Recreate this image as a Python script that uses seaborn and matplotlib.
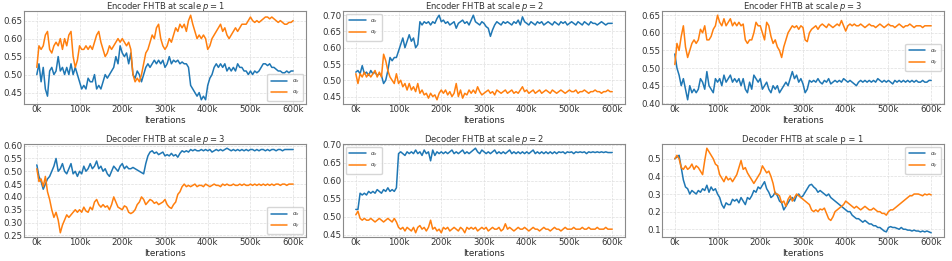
import matplotlib
matplotlib.use("Agg")
import matplotlib.pyplot as plt
from matplotlib.ticker import MultipleLocator
import pandas as pd
import seaborn as sns

# iterations, one sample every 5k
iters = list(range(0, 600001, 5000))

titles = [
    "Encoder FHTB at scale $p = 1$",
    "Encoder FHTB at scale $p = 2$",
    "Encoder FHTB at scale $p = 3$",
    "Decoder FHTB at scale $p = 3$",
    "Decoder FHTB at scale $p = 2$",
    "Decoder FHTB at scale p = 1",
]

enc1_x = [.50, .53, .48, .52, .46, .44, .51, .52, .50, .51,
          .55, .51, .52, .50, .52, .50, .53, .50, .52, .50,
          .48, .46, .47, .46, .49, .48, .48, .50, .46, .47,
          .46, .48, .50, .49, .50, .51, .52, .55, .53, .58,
          .56, .55, .56, .53, .56, .50, .49, .51, .50, .48,
          .50, .52, .53, .52, .53, .54, .53, .54, .53, .54,
          .52, .53, .55, .53, .54, .535, .54, .53, .535, .53,
          .53, .52, .47, .46, .45, .44, .45, .43, .44, .43,
          .47, .49, .50, .52, .53, .52, .53, .52, .53, .51,
          .52, .51, .52, .51, .53, .52, .52, .51, .51, .50,
          .51, .50, .51, .505, .51, .52, .53, .53, .525, .53,
          .52, .52, .515, .51, .51, .505, .505, .51, .505, .51,
          .51]
enc1_y = [.52, .58, .57, .58, .61, .62, .57, .56, .58, .59,
          .58, .60, .57, .60, .58, .61, .62, .55, .52, .54,
          .58, .57, .57, .58, .57, .58, .57, .59, .61, .62,
          .59, .57, .55, .56, .58, .57, .58, .59, .60, .59,
          .60, .59, .58, .59, .57, .50, .48, .49, .48, .50,
          .53, .56, .57, .59, .61, .60, .63, .64, .60, .58,
          .57, .58, .60, .59, .61, .63, .62, .64, .63, .64,
          .62, .65, .665, .64, .62, .60, .61, .60, .61, .60,
          .57, .58, .60, .61, .62, .63, .64, .62, .63, .61,
          .60, .61, .62, .63, .62, .63, .64, .64, .64, .65,
          .66, .65, .645, .65, .645, .65, .655, .66, .66, .655,
          .66, .655, .65, .645, .65, .645, .64, .64, .645, .645,
          .65]

enc2_x = [.525, .53, .52, .545, .52, .525, .515, .53, .52, .525,
          .515, .52, .515, .49, .50, .53, .57, .56, .57, .57,
          .59, .61, .63, .60, .62, .64, .62, .63, .60, .61,
          .68, .67, .68, .675, .68, .67, .68, .675, .69, .70,
          .68, .685, .675, .68, .67, .675, .68, .66, .675, .68,
          .685, .675, .68, .67, .685, .70, .68, .675, .67, .68,
          .675, .665, .66, .635, .655, .67, .68, .675, .67, .68,
          .675, .68, .675, .67, .68, .675, .685, .67, .695, .68,
          .675, .67, .68, .675, .67, .68, .675, .68, .67, .675,
          .68, .675, .67, .68, .675, .67, .68, .675, .68, .67,
          .675, .68, .675, .67, .68, .675, .67, .68, .675, .67,
          .68, .675, .675, .67, .675, .68, .675, .67, .675, .675,
          .675]
enc2_y = [.52, .49, .52, .51, .525, .51, .52, .51, .52, .53,
          .51, .525, .51, .58, .56, .53, .51, .50, .49, .52,
          .49, .50, .48, .49, .47, .49, .47, .48, .465, .49,
          .46, .47, .455, .46, .445, .46, .45, .455, .44, .46,
          .47, .46, .47, .455, .465, .45, .46, .49, .45, .47,
          .445, .46, .455, .47, .46, .47, .46, .48, .465, .455,
          .46, .465, .47, .46, .465, .455, .47, .465, .46, .465,
          .47, .46, .465, .47, .46, .465, .46, .47, .48, .465,
          .47, .46, .465, .47, .46, .465, .47, .46, .465, .47,
          .465, .46, .47, .465, .46, .465, .47, .465, .46, .465,
          .47, .465, .465, .47, .46, .465, .465, .47, .465, .46,
          .465, .465, .47, .465, .465, .46, .465, .465, .47, .465,
          .465]

enc3_x = [.54, .50, .48, .45, .47, .44, .41, .45, .43, .44,
          .43, .44, .47, .46, .44, .49, .45, .44, .43, .47,
          .46, .47, .45, .48, .46, .47, .48, .46, .47, .46,
          .47, .45, .47, .44, .43, .46, .44, .48, .47, .46,
          .47, .44, .45, .46, .44, .43, .45, .44, .45, .43,
          .44, .45, .46, .45, .47, .49, .47, .48, .46, .47,
          .455, .43, .44, .465, .46, .465, .46, .47, .46, .455,
          .465, .46, .47, .455, .46, .465, .46, .465, .46, .47,
          .465, .46, .465, .46, .455, .45, .46, .465, .46, .465,
          .46, .465, .46, .465, .46, .47, .465, .46, .465, .46,
          .465, .46, .455, .465, .46, .465, .46, .465, .46, .465,
          .46, .465, .46, .465, .46, .46, .465, .46, .46, .465,
          .465]
enc3_y = [.51, .57, .55, .59, .62, .56, .53, .55, .57, .58,
          .57, .58, .61, .60, .62, .58, .58, .59, .61, .62,
          .65, .63, .62, .64, .62, .63, .64, .62, .63, .62,
          .63, .62, .625, .58, .57, .58, .58, .60, .63, .62,
          .62, .60, .58, .63, .62, .59, .57, .58, .56, .55,
          .53, .56, .58, .60, .61, .62, .615, .62, .61, .62,
          .615, .58, .575, .60, .61, .615, .62, .61, .62, .625,
          .62, .615, .625, .62, .615, .62, .625, .62, .635, .62,
          .605, .62, .625, .62, .625, .62, .62, .625, .62, .615,
          .62, .625, .62, .62, .615, .62, .625, .62, .615, .62,
          .625, .62, .62, .615, .62, .625, .62, .615, .62, .62,
          .625, .62, .615, .62, .62, .62, .615, .62, .62, .62,
          .62]

dec3_x = [.525, .48, .46, .43, .45, .47, .48, .50, .52, .55,
          .50, .51, .53, .50, .49, .51, .53, .49, .50, .48,
          .50, .49, .52, .50, .51, .53, .51, .52, .54, .51,
          .52, .50, .51, .49, .48, .50, .52, .51, .50, .52,
          .53, .51, .52, .51, .51, .515, .51, .505, .50, .495,
          .49, .53, .56, .575, .58, .57, .575, .565, .57, .575,
          .56, .565, .56, .57, .56, .565, .555, .57, .58, .575,
          .58, .575, .585, .58, .585, .58, .58, .585, .58, .585,
          .58, .585, .575, .58, .585, .58, .585, .58, .585, .59,
          .585, .58, .585, .58, .585, .58, .585, .58, .585, .58,
          .585, .585, .58, .585, .58, .585, .585, .58, .585, .58,
          .585, .585, .58, .585, .585, .58, .585, .585, .585, .585,
          .585]
dec3_y = [.51, .46, .47, .44, .48, .42, .39, .35, .32, .34,
          .31, .26, .29, .31, .33, .32, .33, .34, .35, .34,
          .35, .34, .36, .345, .34, .36, .35, .38, .39, .37,
          .36, .37, .36, .365, .35, .37, .40, .38, .36, .355,
          .35, .365, .36, .34, .335, .34, .35, .37, .38, .40,
          .39, .37, .38, .39, .385, .375, .38, .37, .375, .38,
          .39, .37, .36, .355, .37, .38, .41, .42, .44, .45,
          .44, .445, .44, .445, .45, .44, .445, .445, .44, .45,
          .445, .44, .445, .45, .445, .445, .44, .45, .445, .45,
          .445, .445, .45, .445, .445, .45, .445, .45, .445, .445,
          .45, .445, .45, .445, .45, .445, .45, .445, .45, .445,
          .45, .445, .45, .45, .445, .45, .45, .445, .45, .45,
          .45]

dec2_x = [.52, .52, .565, .56, .565, .56, .57, .565, .57, .565,
          .575, .57, .565, .575, .57, .58, .57, .575, .57, .58,
          .675, .68, .675, .67, .68, .675, .68, .675, .685, .675,
          .68, .67, .685, .675, .68, .655, .685, .67, .68, .675,
          .68, .675, .68, .675, .68, .685, .675, .68, .675, .68,
          .685, .675, .68, .675, .68, .685, .69, .68, .675, .685,
          .68, .675, .68, .675, .68, .685, .675, .68, .675, .68,
          .675, .68, .685, .675, .68, .675, .68, .675, .68, .675,
          .68, .675, .68, .685, .675, .68, .675, .68, .675, .68,
          .675, .68, .675, .68, .675, .68, .678, .68, .675, .68,
          .678, .68, .675, .68, .678, .68, .678, .68, .675, .68,
          .678, .68, .678, .68, .678, .68, .678, .68, .678, .678,
          .678]
dec2_y = [.505, .515, .495, .49, .495, .49, .49, .495, .49, .485,
          .49, .495, .49, .485, .49, .495, .49, .485, .495, .485,
          .47, .465, .47, .46, .47, .465, .46, .47, .455, .47,
          .475, .465, .47, .46, .47, .49, .465, .47, .46, .465,
          .455, .47, .465, .47, .46, .465, .47, .465, .46, .47,
          .465, .455, .47, .465, .47, .465, .47, .46, .465, .47,
          .465, .47, .46, .465, .47, .465, .465, .47, .46, .465,
          .48, .465, .47, .465, .46, .465, .47, .465, .465, .47,
          .465, .46, .465, .47, .465, .465, .46, .465, .47, .465,
          .465, .46, .465, .47, .465, .465, .46, .465, .47, .465,
          .465, .465, .47, .465, .465, .465, .47, .465, .465, .47,
          .465, .465, .465, .47, .465, .465, .465, .47, .465, .465,
          .465]

dec1_x = [.50, .51, .52, .45, .38, .34, .33, .30, .32, .31,
          .30, .32, .31, .33, .32, .35, .31, .34, .32, .33,
          .30, .28, .24, .22, .25, .24, .24, .27, .26, .27,
          .25, .28, .26, .24, .28, .27, .29, .32, .31, .34,
          .33, .35, .37, .33, .31, .28, .29, .31, .29, .26,
          .25, .21, .23, .25, .27, .28, .26, .29, .30, .28,
          .29, .31, .33, .35, .355, .34, .33, .31, .32, .31,
          .30, .29, .30, .28, .27, .26, .25, .24, .23, .22,
          .21, .20, .20, .18, .17, .16, .16, .15, .14, .15,
          .14, .13, .13, .12, .12, .11, .11, .10, .09, .085,
          .11, .115, .11, .11, .105, .10, .11, .10, .10, .095,
          .095, .09, .095, .09, .09, .085, .09, .085, .09, .085,
          .08]
dec1_y = [.50, .52, .50, .45, .44, .46, .44, .45, .47, .44,
          .46, .45, .43, .41, .49, .56, .54, .52, .50, .47,
          .46, .41, .39, .37, .40, .38, .39, .37, .39, .41,
          .45, .49, .44, .45, .42, .40, .38, .36, .38, .40,
          .42, .46, .44, .42, .43, .40, .36, .30, .30, .29,
          .25, .26, .23, .27, .29, .26, .28, .30, .29, .28,
          .27, .26, .25, .24, .21, .20, .21, .20, .215, .21,
          .22, .19, .16, .15, .17, .20, .21, .22, .23, .24,
          .26, .25, .24, .23, .22, .23, .22, .21, .22, .23,
          .22, .21, .21, .22, .21, .20, .20, .19, .19, .18,
          .20, .21, .21, .22, .23, .24, .25, .26, .27, .28,
          .29, .29, .30, .30, .30, .295, .29, .30, .295, .30,
          .295]

series = [(enc1_x, enc1_y), (enc2_x, enc2_y), (enc3_x, enc3_y),
          (dec3_x, dec3_y), (dec2_x, dec2_y), (dec1_x, dec1_y)]
legend_locs = ["lower right", "upper left", "center right",
               "lower right", "upper left", "upper right"]
y_steps = [0.05, 0.05, 0.05, 0.05, 0.05, 0.1]

for xs, ys in series:
    assert len(xs) == len(iters) and len(ys) == len(iters), (len(xs), len(ys))

sns.set_style("whitegrid", {"grid.linestyle": "--", "grid.color": "#dedede",
                            "axes.edgecolor": "#8a8a8a"})
plt.rcParams["font.family"] = ["DejaVu Sans"]
plt.rcParams["text.color"] = "#333333"

fig, axes = plt.subplots(2, 3, figsize=(9.52, 2.61), dpi=100)
W, H = 952, 261
lefts = [24, 343, 662]
rows = [(11, 104), (144, 237)]

for i, ax in enumerate(axes.flat):
    r, c = divmod(i, 3)
    top, bot = rows[r]
    ax.set_position([lefts[c] / W, 1 - bot / H, 282 / W, (bot - top) / H])
    xs, ys = series[i]
    df = pd.DataFrame({
        "iter": iters * 2,
        "val": xs + ys,
        "alpha": [r"$\alpha_x$"] * len(iters) + [r"$\alpha_y$"] * len(iters),
    })
    sns.lineplot(data=df, x="iter", y="val", hue="alpha", ax=ax,
                 palette=["#1f77b4", "#ff7f0e"], linewidth=1.1)
    ax.set_title(titles[i], fontsize=6, pad=1.5)
    ax.set_xlabel("Iterations", fontsize=6.3, labelpad=1)
    ax.set_ylabel("")
    ax.set_xticks(range(0, 600001, 100000))
    ax.set_xticklabels([f"{v // 1000}k" for v in range(0, 600001, 100000)])
    ax.yaxis.set_major_locator(MultipleLocator(y_steps[i]))
    ax.tick_params(labelsize=6.2, pad=1, length=0, labelcolor="#333333")
    ax.grid(True, linewidth=0.5)
    for s in ax.spines.values():
        s.set_linewidth(0.8)
    ax.legend(loc=legend_locs[i], fontsize=4, frameon=True,
              handlelength=3.0, borderpad=0.6, labelspacing=0.6)

fig.savefig("out.png", dpi=100)
